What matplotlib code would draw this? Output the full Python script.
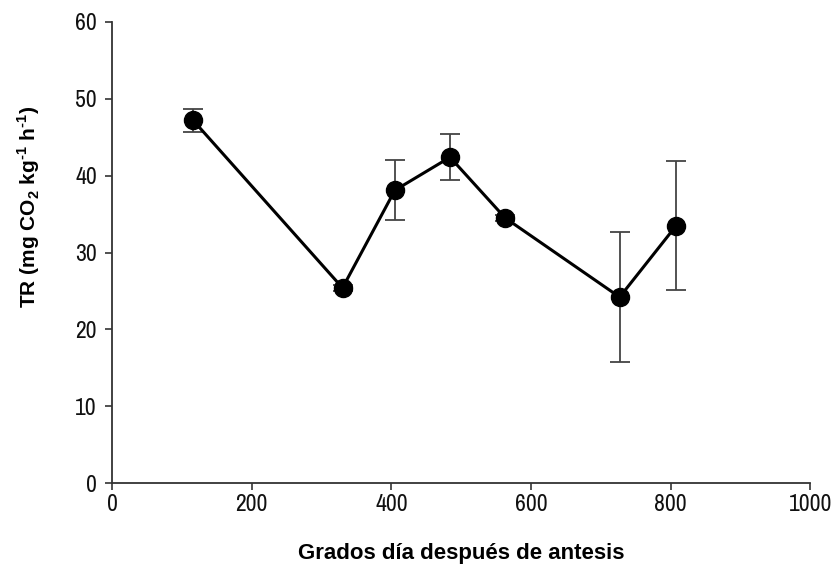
import matplotlib
matplotlib.use("Agg")
import matplotlib.pyplot as plt

# grados dia despues de antesis vs tasa respiratoria
grados_dia = [116, 330, 405, 484, 563, 727, 808]
tr = [47.2, 25.4, 38.1, 42.4, 34.5, 24.2, 33.5]
err = [1.5, 0.4, 3.9, 3.0, 0.4, 8.5, 8.4]

xticks = [0, 200, 400, 600, 800, 1000]
yticks = [0, 10, 20, 30, 40, 50, 60]

tick_font = ['Archivo Narrow', 'Liberation Sans', 'DejaVu Sans']
label_font = ['Liberation Sans', 'DejaVu Sans']
plt.rcParams['font.family'] = tick_font
plt.rcParams['mathtext.fontset'] = 'custom'
plt.rcParams['mathtext.rm'] = 'Liberation Sans:bold'
plt.rcParams['mathtext.bf'] = 'Liberation Sans:bold'

fig = plt.figure(figsize=(8.37, 5.71), dpi=100)
ax = fig.add_axes([0.134, 0.154, 0.834, 0.8075])

ax.errorbar(grados_dia, tr, yerr=err, fmt='none', ecolor='#444444',
            elinewidth=1.3, capsize=7, capthick=1.3, zorder=2)
ax.plot(grados_dia, tr, color='black', linewidth=2.2, marker='o',
        markersize=13, markerfacecolor='black', zorder=3)

ax.set_xlim(0, 1000)
ax.set_ylim(0, 60)
ax.set_xticks(xticks)
ax.set_yticks(yticks)
ax.tick_params(direction='out', length=5, width=1.2, color='#333333',
               labelsize=17, labelcolor='#111111')
ax.tick_params(axis='x', pad=3)
ax.tick_params(axis='y', pad=6)

for s in ['top', 'right']:
    ax.spines[s].set_visible(False)
for s in ['left', 'bottom']:
    ax.spines[s].set_linewidth(1.3)
    ax.spines[s].set_color('#333333')

ax.set_xlabel('Grados día después de antesis', fontsize=16, fontweight='bold',
              family=label_font)
ax.set_ylabel(r'TR (mg CO$_\mathbf{2}$ kg$^{\text{-}1}$ h$^{\text{-}1}$)',
              fontsize=15, fontweight='bold', family=label_font)
ax.xaxis.set_label_coords(0.5, -0.13)
ax.yaxis.set_label_coords(-0.10, 0.60)

fig.savefig('out.png', dpi=100)
